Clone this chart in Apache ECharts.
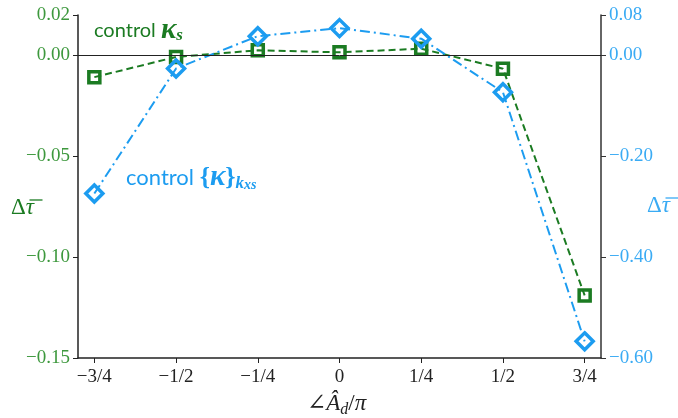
<!DOCTYPE html>
<html>
<head>
<meta charset="utf-8">
<script src="https://cdn.jsdelivr.net/npm/echarts@6/dist/echarts.min.js"></script>
<style>
  html, body { margin: 0; padding: 0; background: #ffffff; }
  #chart { width: 678px; height: 418px; }
</style>
</head>
<body>
<div id="chart"></div>
<script>
// Phase angle of the disturbance, in units of pi
const angles = [-0.75, -0.5, -0.25, 0, 0.25, 0.5, 0.75];
const angleTickText = ['−3/4', '−1/2', '−1/4', '0', '1/4', '1/2', '3/4'];

// Change in mean tau for the two controllers
const controlKs = [-0.0108, -0.0008, 0.0025, 0.0015, 0.0033, -0.0066, -0.119];   // left axis
const controlKxs = [-0.274, -0.026, 0.038, 0.054, 0.033, -0.073, -0.567];      // right axis

// Tick positions of the two value axes
const leftTicks = [-0.15, -0.10, -0.05, 0.00, 0.02];
const rightTicks = [-0.60, -0.40, -0.20, 0.00, 0.08];

const GREEN = '#1b7b22';
const GREEN_LABEL = '#3d983d';
const BLUE = '#1c9cf0';
const BLUE_LABEL = '#3aabf4';
const SERIF = '"Liberation Serif", "DejaVu Serif", serif';
const SANS = 'Lato, "DejaVu Sans", sans-serif';

const fmt = v => (v < 0 ? '−' : '') + Math.abs(v).toFixed(2);

const chart = echarts.init(document.getElementById('chart'), null, { renderer: 'canvas' });

// Delta tau-bar axis title: glyphs plus a short bar over the tau
function tauBarTitle(x, y, color) {
  return [
    {
      type: 'text', x: x, y: y,
      style: {
        text: '{d|Δ}{t|τ}',
        verticalAlign: 'middle',
        rich: {
          d: { fontFamily: SERIF, fontSize: 23, fill: color },
          t: { fontFamily: SERIF, fontSize: 23, fontStyle: 'italic', fill: color }
        }
      }
    },
    {
      type: 'line', silent: true,
      shape: { x1: x + 18.5, y1: y - 8, x2: x + 31.5, y2: y - 8 },
      style: { stroke: color, lineWidth: 1.3 }
    }
  ];
}

chart.setOption({
  animation: false,
  backgroundColor: '#ffffff',
  grid: { left: 78, right: 77, top: 15, bottom: 60, containLabel: false },
  xAxis: {
    type: 'value',
    min: -0.8,
    max: 0.8,
    splitLine: { show: false },
    axisLine: { show: true, onZero: false, lineStyle: { color: '#222', width: 1.5 } },
    axisTick: { show: true, customValues: angles, length: 5, lineStyle: { color: '#222', width: 1 } },
    axisLabel: {
      customValues: angles,
      formatter: v => angleTickText[angles.findIndex(a => Math.abs(a - v) < 1e-9)],
      fontFamily: SERIF, fontSize: 19, color: '#222', margin: 10
    }
  },
  yAxis: [
    {
      type: 'value',
      position: 'left',
      min: -0.15,
      max: 0.02,
      splitLine: { show: false },
      axisLine: { show: true, onZero: false, lineStyle: { color: '#222', width: 1.5 } },
      axisTick: { show: true, customValues: leftTicks, length: 5, lineStyle: { color: '#222', width: 1 } },
      axisLabel: { customValues: leftTicks, formatter: fmt, fontFamily: SERIF, fontSize: 19, color: GREEN_LABEL, margin: 8 }
    },
    {
      type: 'value',
      position: 'right',
      min: -0.60,
      max: 0.08,
      splitLine: { show: false },
      axisLine: { show: true, onZero: false, lineStyle: { color: '#333', width: 1.5 } },
      axisTick: { show: true, customValues: rightTicks, length: 5, lineStyle: { color: '#333', width: 1 } },
      axisLabel: { customValues: rightTicks, formatter: fmt, fontFamily: SERIF, fontSize: 19, color: BLUE_LABEL, margin: 8 }
    }
  ],
  series: [
    {
      name: 'control κs',
      type: 'line',
      yAxisIndex: 0,
      data: angles.map((a, i) => [a, controlKs[i]]),
      symbol: 'rect',
      symbolSize: 11,
      lineStyle: { color: GREEN, width: 2, type: [7, 4] },
      itemStyle: { color: 'transparent', borderColor: GREEN, borderWidth: 3.5 },
      markLine: {
        silent: true,
        symbol: 'none',
        label: { show: false },
        lineStyle: { color: '#222', width: 1, type: 'solid' },
        data: [{ yAxis: 0 }]
      },
      z: 3
    },
    {
      name: 'control {κ}kxs',
      type: 'line',
      yAxisIndex: 1,
      data: angles.map((a, i) => [a, controlKxs[i]]),
      symbol: 'diamond',
      symbolSize: 17,
      lineStyle: { color: BLUE, width: 2, type: [10, 4, 2, 4] },
      itemStyle: { color: 'transparent', borderColor: BLUE, borderWidth: 3.5 },
      z: 4
    }
  ],
  graphic: [
    {
      type: 'text', x: 94, y: 31,
      style: {
        text: '{t|control }{k|κ}{s|s}',
        verticalAlign: 'middle',
        rich: {
          t: { fontFamily: SANS, fontSize: 20, fill: GREEN, lineHeight: 26, verticalAlign: 'middle' },
          k: { fontFamily: SERIF, fontSize: 29, fontWeight: 'bold', fontStyle: 'italic', fill: GREEN, lineHeight: 26, verticalAlign: 'middle' },
          s: { fontFamily: SERIF, fontSize: 17, fontStyle: 'italic', fontWeight: 'bold', fill: GREEN, lineHeight: 16, verticalAlign: 'bottom' }
        }
      }
    },
    {
      // braces are plain text, so they take the base style
      type: 'text', x: 126, y: 178,
      style: {
        text: '{t|control }{{k|κ}}{s|k}{ss|xs}',
        verticalAlign: 'middle',
        fontFamily: SERIF, fontSize: 26, fontWeight: 'bold', fill: BLUE,
        rich: {
          t: { fontFamily: SANS, fontSize: 22, fill: BLUE, lineHeight: 28, verticalAlign: 'middle' },
          k: { fontFamily: SERIF, fontSize: 29, fontWeight: 'bold', fontStyle: 'italic', fill: BLUE, lineHeight: 28, verticalAlign: 'middle' },
          s: { fontFamily: SERIF, fontSize: 17, fontStyle: 'italic', fontWeight: 'bold', fill: BLUE, lineHeight: 18, verticalAlign: 'bottom' },
          ss: { fontFamily: SERIF, fontSize: 14, fontStyle: 'italic', fontWeight: 'bold', fill: BLUE, lineHeight: 12, verticalAlign: 'bottom' }
        }
      }
    },
    ...tauBarTitle(11, 208, GREEN),
    ...tauBarTitle(647, 206, BLUE_LABEL),
    {
      type: 'text', x: 307, y: 404,
      style: {
        text: '{n|∠}{a|Â}{d|d}{n|/}{p|π}',
        verticalAlign: 'middle',
        rich: {
          n: { fontFamily: SERIF, fontSize: 23, fill: '#222', lineHeight: 28, verticalAlign: 'middle' },
          a: { fontFamily: SERIF, fontSize: 23, fontStyle: 'italic', fill: '#222', lineHeight: 28, verticalAlign: 'middle' },
          d: { fontFamily: SERIF, fontSize: 16, fontStyle: 'italic', fill: '#222', lineHeight: 17, verticalAlign: 'bottom' },
          p: { fontFamily: SERIF, fontSize: 23, fontStyle: 'italic', fill: '#222', lineHeight: 28, verticalAlign: 'middle' }
        }
      }
    }
  ]
});
</script>
</body>
</html>
